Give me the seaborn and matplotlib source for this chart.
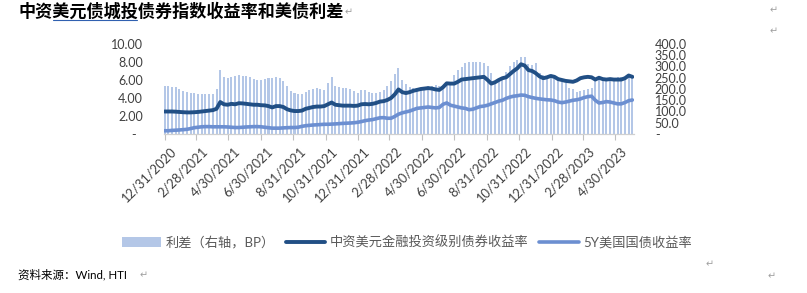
import numpy as np
import pandas as pd
import matplotlib
matplotlib.use("Agg")
import matplotlib.pyplot as plt
import seaborn as sns
from matplotlib.lines import Line2D
from matplotlib.patches import Patch
import matplotlib.transforms as mtransforms

# ---------------- data (weekly) ----------------
dates = pd.date_range("2020-12-31", periods=127, freq="7D")

ig_yield = [
    2.50, 2.50, 2.50, 2.48, 2.45, 2.42, 2.40, 2.40, 2.42, 2.45,
    2.50, 2.55, 2.60, 2.65, 2.80, 3.55, 3.30, 3.25, 3.35, 3.30,
    3.42, 3.40, 3.35, 3.30, 3.25, 3.25, 3.20, 3.18, 3.10, 2.95,
    3.10, 3.10, 3.00, 2.75, 2.62, 2.55, 2.55, 2.60, 2.80, 2.90,
    3.00, 3.05, 3.05, 3.10, 3.30, 3.50, 3.25, 3.20, 3.15, 3.15,
    3.15, 3.12, 3.15, 3.30, 3.33, 3.30, 3.35, 3.45, 3.60, 3.65,
    3.78, 4.00, 4.40, 4.95, 4.65, 4.55, 4.65, 4.80, 4.90, 5.00,
    5.05, 5.10, 5.05, 4.95, 4.90, 5.20, 5.63, 5.60, 5.60, 5.80,
    6.05, 6.10, 6.15, 6.20, 6.25, 6.30, 6.35, 6.00, 5.60, 5.75,
    6.00, 6.20, 6.30, 6.65, 7.00, 7.30, 7.75, 7.60, 7.10, 7.00,
    6.75, 6.40, 6.20, 6.30, 6.45, 6.35, 6.10, 6.00, 5.90, 5.85,
    5.80, 5.95, 6.20, 6.30, 6.35, 6.30, 6.05, 6.25, 6.10, 6.05,
    6.10, 6.05, 6.05, 6.05, 6.20, 6.50, 6.35,
]

ust5y = [
    0.36, 0.36, 0.40, 0.42, 0.45, 0.48, 0.52, 0.60, 0.70, 0.75,
    0.80, 0.82, 0.82, 0.80, 0.80, 0.80, 0.80, 0.78, 0.75, 0.72,
    0.72, 0.75, 0.78, 0.80, 0.82, 0.82, 0.80, 0.75, 0.70, 0.65,
    0.65, 0.65, 0.68, 0.70, 0.72, 0.72, 0.75, 0.85, 0.92, 0.96,
    1.00, 1.02, 1.05, 1.08, 1.08, 1.10, 1.12, 1.15, 1.18, 1.20,
    1.22, 1.25, 1.30, 1.38, 1.48, 1.55, 1.60, 1.70, 1.80, 1.82,
    1.75, 1.75, 1.95, 2.20, 2.35, 2.45, 2.55, 2.70, 2.85, 2.90,
    2.95, 3.00, 2.95, 2.90, 2.95, 3.30, 3.45, 3.20, 3.10, 3.00,
    2.90, 2.85, 2.70, 2.75, 2.90, 3.05, 3.10, 3.20, 3.35, 3.50,
    3.65, 3.75, 3.95, 4.10, 4.20, 4.25, 4.33, 4.30, 4.15, 4.05,
    3.96, 3.90, 3.85, 3.80, 3.78, 3.70, 3.55, 3.48, 3.55, 3.65,
    3.75, 3.80, 3.90, 4.05, 4.15, 4.20, 3.75, 3.45, 3.50, 3.60,
    3.55, 3.45, 3.35, 3.35, 3.50, 3.70, 3.78,
]

spread_bp = [
    215, 212, 210, 207, 200, 192, 186, 182, 180, 178,
    178, 176, 178, 178, 200, 284, 252, 250, 255, 258,
    262, 258, 256, 252, 245, 240, 242, 245, 248, 250,
    252, 248, 235, 215, 192, 182, 178, 176, 185, 196,
    200, 203, 198, 196, 225, 255, 212, 208, 205, 203,
    200, 190, 182, 195, 196, 185, 180, 182, 188, 195,
    215, 235, 265, 292, 240, 220, 210, 205, 203, 206,
    210, 212, 215, 218, 215, 212, 218, 230, 262, 285,
    299, 315, 321, 322, 322, 320, 314, 300, 270, 235,
    240, 255, 275, 300, 320, 330, 344, 340, 310, 308,
    314, 270, 262, 250, 248, 260, 250, 233, 225, 205,
    198, 188, 192, 196, 200, 203, 235, 250, 248, 242,
    245, 250, 255, 255, 255, 258, 255,
]

tick_dates = ["2020-12-31", "2021-02-28", "2021-04-30", "2021-06-30", "2021-08-31",
              "2021-10-31", "2021-12-31", "2022-02-28", "2022-04-30", "2022-06-30",
              "2022-08-31", "2022-10-31", "2022-12-31", "2023-02-28", "2023-04-30"]
tick_labels = ["12/31/2020", "2/28/2021", "4/30/2021", "6/30/2021", "8/31/2021",
               "10/31/2021", "12/31/2021", "2/28/2022", "4/30/2022", "6/30/2022",
               "8/31/2022", "10/31/2022", "12/31/2022", "2/28/2023", "4/30/2023"]

left_ticks = [0, 2, 4, 6, 8, 10]
left_labels = ["-  ", "2.00", "4.00", "6.00", "8.00", "10.00"]
right_ticks = [0, 50, 100, 150, 200, 250, 300, 350, 400]
right_labels = ["-", "50.0", "100.0", "150.0", "200.0", "250.0", "300.0", "350.0", "400.0"]

title = "中资美元债城投债券指数收益率和美债利差"
legend_labels = ["利差（右轴，BP）", "中资美元金融投资级别债券收益率", "5Y美国国债收益率"]
source = "资料来源：Wind, HTI"

# ---------------- style ----------------
sns.set_theme(style="white")
plt.rcParams["font.family"] = ["Lato", "Noto Sans CJK SC", "DejaVu Sans"]

bar_color = "#b4c7e7"
dark_color = "#214f85"
light_color = "#6c8fd1"
text_color = "#404040"

W, H = 807, 293
fig = plt.figure(figsize=(W / 100, H / 100), dpi=100)
ax_l, ax_r, ax_b, ax_t = 164, 634, 134, 44
ax = fig.add_axes([ax_l / W, 1 - ax_b / H, (ax_r - ax_l) / W, (ax_b - ax_t) / H])
ax2 = ax.twinx()

df = pd.DataFrame({"date": dates, "ig": ig_yield, "ust": ust5y, "spread": spread_bp})

# bars (right axis)
ax2.bar(df["date"], df["spread"], width=3.8, color=bar_color, linewidth=0, zorder=1)

# lines (left axis)
sns.lineplot(data=df, x="date", y="ig", ax=ax, color=dark_color, linewidth=2.8, legend=False)
sns.lineplot(data=df, x="date", y="ust", ax=ax, color=light_color, linewidth=2.6, legend=False)

ax.set_zorder(ax2.get_zorder() + 1)
ax.patch.set_visible(False)

ax.set_xlim(pd.Timestamp("2020-12-30"), pd.Timestamp("2023-06-04"))
ax.set_ylim(0, 10)
ax2.set_ylim(0, 400)

ax.set_yticks(left_ticks)
ax.set_yticklabels(left_labels)
ax2.set_yticks(right_ticks)
ax2.set_yticklabels(right_labels)
ax.tick_params(axis="y", length=0, pad=15, labelsize=9, labelcolor=text_color)
ax2.tick_params(axis="y", length=0, pad=15, labelsize=9, labelcolor=text_color)

ax.set_xticks(pd.to_datetime(tick_dates))
ax.set_xticklabels(tick_labels, rotation=45, ha="right", va="top",
                   rotation_mode="anchor", fontsize=9.3, color=text_color)
ax.tick_params(axis="x", length=4, width=0.8, color="#bfbfbf", direction="out",
               pad=4, bottom=True)
offset = mtransforms.ScaledTranslation(4 / 72, 0, fig.dpi_scale_trans)
for lab in ax.get_xticklabels():
    lab.set_transform(lab.get_transform() + offset)

ax.set_xlabel("")
ax.set_ylabel("")
ax2.set_ylabel("")
for a in (ax, ax2):
    for s in ("top", "right", "left", "bottom"):
        a.spines[s].set_visible(False)
ax.spines["bottom"].set_visible(True)
ax.spines["bottom"].set_color("#d0d0d0")
ax.spines["bottom"].set_linewidth(0.9)
ax.grid(False)
ax2.grid(False)

# legend
handles = [Patch(facecolor=bar_color, edgecolor="none"),
           Line2D([0], [0], color=dark_color, linewidth=2.8),
           Line2D([0], [0], color=light_color, linewidth=2.6)]
fig.legend(handles, legend_labels, loc="center", bbox_to_anchor=(407 / W, 1 - 242 / H),
           ncol=3, frameon=False, fontsize=9.5, handlelength=3.0, handletextpad=0.35,
           columnspacing=0.8, labelcolor="#595959")

# title and document text
fig.text(18 / W, 1 - 12 / H, title, fontsize=12.3, fontweight="bold", color="black",
         va="center", ha="left", family=["Noto Sans CJK SC", "DejaVu Sans"])
fig.add_artist(Line2D([53 / W, 137 / W], [1 - 20 / H, 1 - 20 / H], color="#3060b0",
                      linewidth=0.8, transform=fig.transFigure))
fig.text(18 / W, 1 - 275 / H, source, fontsize=8.3, color="black", va="center", ha="left")

ret_color = "#a0a0a0"
for (px, py) in [(345, 12), (770, 10), (770, 31), (706, 264), (768, 276), (140, 275)]:
    fig.text(px / W, 1 - py / H, "↵", fontsize=7, color=ret_color, va="center",
             ha="left", family=["DejaVu Sans"])

fig.savefig("out.png", dpi=100)
